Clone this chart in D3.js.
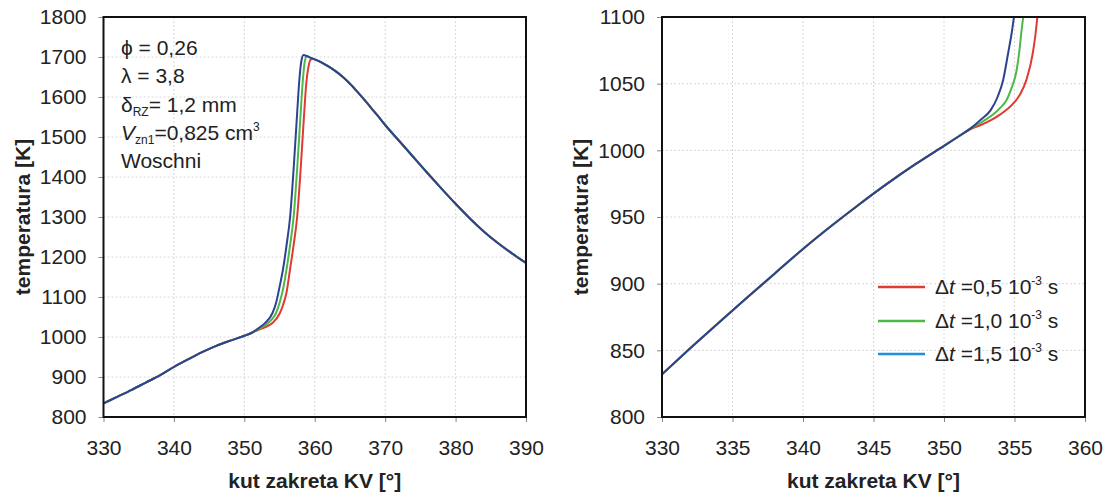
<!DOCTYPE html>
<html><head><meta charset="utf-8">
<script src="https://cdn.jsdelivr.net/npm/d3@7"></script>
<style>
body{margin:0;background:#fff;}
svg text{font-family:"Liberation Sans",Arial,sans-serif;fill:#222;}
</style></head>
<body><svg id="c" width="1107" height="493"></svg>
<script>
// ---------- DATA ----------
const leftXTicks = [330,340,350,360,370,380,390];
const leftYTicks = [800,900,1000,1100,1200,1300,1400,1500,1600,1700,1800];
const rightXTicks = [330,335,340,345,350,355,360];
const rightYTicks = [800,850,900,950,1000,1050,1100];

const leftCommonStart = [[330,834],[332,851],[334,868],[336,886],[338,904],[340,925],[342,944],[344,962],[346,978],[348,991],[350,1003],[351,1010]];
const leftCommonEnd = [[360,1694],[361,1686],[362,1676],[363,1664],[364,1650],[365,1633],[366,1614],[367,1594],[368,1573],[369,1552],[370,1530],[372,1490],[374,1450],[376,1410],[378,1371],[380,1333],[382,1297],[384,1264],[386,1235],[388,1209],[390,1185]];
const leftBlueMid = [[352,1022],[353,1036],[354,1060],[354.5,1085],[355,1125],[355.5,1170],[356,1230],[356.5,1300],[357,1420],[357.5,1560],[357.8,1640],[358.1,1690],[358.4,1705],[359,1701]];
const leftGreenMid = [[352,1020],[353,1030],[354,1046],[354.5,1060],[355,1085],[355.5,1120],[356,1170],[356.5,1230],[357,1300],[357.5,1420],[358,1560],[358.3,1640],[358.6,1690],[358.9,1703],[359.3,1699]];
const leftRedMid = [[352,1018],[353,1025],[354,1035],[355,1058],[355.5,1080],[356,1112],[356.5,1170],[357,1230],[357.5,1300],[358,1420],[358.5,1560],[358.8,1635],[359.1,1675],[359.4,1693],[359.7,1695]];

const rightCommonStart = [[330,832],[332,851.5],[334,870.5],[336,889.2],[338,907.7],[340,926],[342,943.2],[344,959.6],[346,975.2],[348,989.8],[350,1003.4],[351,1010.2]];
const rightBlueEnd = [[352,1017.4],[352.6,1023],[353.3,1030],[353.8,1040],[354.2,1053],[354.55,1073],[354.8,1088],[355.0,1103]];
const rightGreenEnd = [[352,1017],[352.8,1022],[353.5,1027],[354.0,1032],[354.45,1038],[354.8,1047],[355.15,1060],[355.35,1075],[355.5,1090],[355.65,1103]];
const rightRedEnd = [[352,1016.5],[352.6,1019],[353.3,1022.5],[354.0,1027],[354.9,1035],[355.4,1042],[355.85,1053],[356.3,1073],[356.5,1088],[356.65,1103]];

const seriesNames = ["0,5","1,0","1,5"];
const lineColors = ["#e03a33","#4cb848","#2d4390"];
const legendColors = ["#e03a33","#4cb848","#1f8fe0"];

// ---------- DRAW ----------
const svg = d3.select("#c");
const FS = 21;

function panel(id, x0, x1, y0, y1, xDom, yDom, xTicks, yTicks, series){
  const x = d3.scaleLinear().domain(xDom).range([x0,x1]);
  const y = d3.scaleLinear().domain(yDom).range([y1,y0]);
  const g = svg.append("g");
  g.append("clipPath").attr("id",id).append("rect")
    .attr("x",x0).attr("y",y0).attr("width",x1-x0).attr("height",y1-y0);
  // grid
  g.append("g").selectAll("line").data(xTicks.slice(1,-1)).join("line")
    .attr("x1",d=>x(d)).attr("x2",d=>x(d)).attr("y1",y0).attr("y2",y1)
    .attr("stroke","#d8d8d8").attr("stroke-width",1).attr("stroke-dasharray","2,2");
  g.append("g").selectAll("line").data(yTicks.slice(1,-1)).join("line")
    .attr("y1",d=>y(d)).attr("y2",d=>y(d)).attr("x1",x0).attr("x2",x1)
    .attr("stroke","#d8d8d8").attr("stroke-width",1).attr("stroke-dasharray","2,2");
  // curves
  const line = d3.line().x(d=>x(d[0])).y(d=>y(d[1])).curve(d3.curveMonotoneX);
  g.append("g").attr("clip-path",`url(#${id})`).selectAll("path").data(series).join("path")
    .attr("d",d=>line(d)).attr("fill","none").attr("stroke",(d,i)=>lineColors[i]).attr("stroke-width",2);
  // axes
  const fmt = d3.format("d");
  const xa = g.append("g").attr("transform",`translate(0,${y1})`)
    .call(d3.axisBottom(x).tickValues(xTicks).tickFormat(fmt).tickSize(5).tickPadding(18).tickSizeOuter(0));
  const ya = g.append("g").attr("transform",`translate(${x0},0)`)
    .call(d3.axisLeft(y).tickValues(yTicks).tickFormat(fmt).tickSize(5).tickPadding(12).tickSizeOuter(0));
  [xa,ya].forEach(a=>{
    a.select(".domain").remove();
    a.selectAll(".tick line").attr("stroke","#888");
    a.selectAll(".tick text").attr("font-size",FS).attr("fill","#222")
      .style("font-family",'"Liberation Sans",Arial,sans-serif');
  });
  // frame
  g.append("rect").attr("x",x0).attr("y",y0).attr("width",x1-x0).attr("height",y1-y0)
    .attr("fill","none").attr("stroke","#111").attr("stroke-width",2);
  // titles
  g.append("text").attr("x",(x0+x1)/2).attr("y",488).attr("text-anchor","middle")
    .attr("font-size",FS).attr("font-weight","bold").text("kut zakreta KV [°]");
  g.append("text").attr("transform",`translate(${x0-74},${(y0+y1)/2}) rotate(-90)`)
    .attr("text-anchor","middle").attr("font-size",FS).attr("font-weight","bold").text("temperatura [K]");
  return {x,y,g};
}

panel("clipL",103.5,526,17,417,[330,390],[800,1800],leftXTicks,leftYTicks,[
  leftCommonStart.concat(leftRedMid,leftCommonEnd),
  leftCommonStart.concat(leftGreenMid,leftCommonEnd),
  leftCommonStart.concat(leftBlueMid,leftCommonEnd)
]);
panel("clipR",662,1085,17,417,[330,360],[800,1100],rightXTicks,rightYTicks,[
  rightCommonStart.concat(rightRedEnd),
  rightCommonStart.concat(rightGreenEnd),
  rightCommonStart.concat(rightBlueEnd)
]);

// annotation
const ann = svg.append("g").attr("font-size",FS);
const ax = 121;
ann.append("text").attr("x",ax).attr("y",55).text("ϕ = 0,26");
ann.append("text").attr("x",ax).attr("y",83).text("λ = 3,8");
const t3 = ann.append("text").attr("x",ax).attr("y",112);
t3.append("tspan").text("δ");
t3.append("tspan").attr("font-size",12).attr("dy",4).text("RZ");
t3.append("tspan").attr("dy",-4).text("= 1,2 mm");
const t4 = ann.append("text").attr("x",ax).attr("y",140);
t4.append("tspan").attr("font-style","italic").text("V");
t4.append("tspan").attr("font-size",12).attr("dy",4).text("zn1");
t4.append("tspan").attr("dy",-4).text("=0,825 cm");
t4.append("tspan").attr("font-size",12).attr("dy",-9).text("3");
ann.append("text").attr("x",ax).attr("y",168).text("Woschni");

// legend
const leg = svg.append("g");
const legY = [287,321,354];
seriesNames.forEach((n,i)=>{
  leg.append("line").attr("x1",878).attr("x2",925).attr("y1",legY[i]).attr("y2",legY[i])
    .attr("stroke",legendColors[i]).attr("stroke-width",2.5);
  const t = leg.append("text").attr("x",935).attr("y",legY[i]+7).attr("font-size",FS);
  t.append("tspan").text("Δ");
  t.append("tspan").attr("font-style","italic").text("t");
  t.append("tspan").text(" =" + n + " 10");
  t.append("tspan").attr("font-size",12).attr("dy",-9).text("-3");
  t.append("tspan").attr("dy",9).text(" s");
});
</script></body></html>
